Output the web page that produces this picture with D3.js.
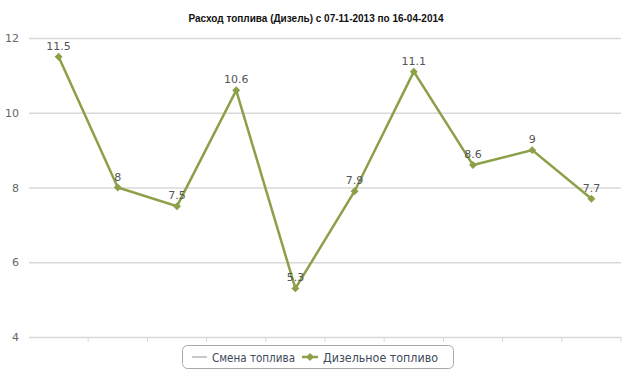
<!DOCTYPE html>
<meta charset="utf-8">
<style>
body { margin: 0; background: #fff; }
.grid line { stroke: #d8d8d8; stroke-width: 1.5px; }
.grid .domain { display: none; }
.ylab { font: 11px "DejaVu Sans", sans-serif; fill: #666; }
.vlab { font: 11px "DejaVu Sans", sans-serif; fill: #555; }
.leg { font: 12px "DejaVu Sans", sans-serif; fill: #3e4a5c; }
</style>
<body>
<script src="https://d3js.org/d3.v7.min.js"></script>
<script>
// chart data
var categories = ["1", "2", "3", "4", "5", "6", "7", "8", "9", "10"];
var diesel = [11.5, 8, 7.5, 10.6, 5.3, 7.9, 11.1, 8.6, 9, 7.7];
var yTicks = [4, 6, 8, 10, 12];
var seriesNames = ["Смена топлива", "Дизельное топливо"];

var width = 633, height = 385;
var margin = {top: 38, right: 12, bottom: 48, left: 29};
var green = "#8ba048";

var svg = d3.select("body").append("svg")
    .attr("width", width)
    .attr("height", height);

svg.append("text")
    .attr("x", 316).attr("y", 22)
    .attr("text-anchor", "middle")
    .style("font", "bold 10px 'Liberation Sans', Arial, sans-serif")
    .style("fill", "#111")
    .text("Расход топлива (Дизель) с 07-11-2013 по 16-04-2014");

var x = d3.scaleBand().domain(categories)
    .range([margin.left, width - margin.right]);
var y = d3.scaleLinear().domain([4, 12])
    .range([height - margin.bottom, margin.top]);

// horizontal grid
svg.append("g").attr("class", "grid")
    .attr("transform", "translate(" + margin.left + ",0)")
    .call(d3.axisLeft(y).tickValues(yTicks)
      .tickSize(-(width - margin.left - margin.right)).tickFormat(""));

// y labels
svg.selectAll(".ylab").data(yTicks).enter().append("text")
    .attr("class", "ylab")
    .attr("x", 19).attr("y", function(d) { return y(d) + 4; })
    .attr("text-anchor", "end")
    .text(function(d) { return d; });

// x tick marks at category boundaries
var xb = y(4);
svg.append("g")
    .selectAll("line").data(categories).enter().append("line")
    .attr("x1", function(d) { return x(d) + x.step(); })
    .attr("x2", function(d) { return x(d) + x.step(); })
    .attr("y1", xb).attr("y2", xb + 5)
    .style("stroke", "#d8d8d8").style("stroke-width", 1);

var cx = function(d, i) { return x(categories[i]) + x.bandwidth() / 2; };

var line = d3.line()
    .x(function(d, i) { return cx(d, i); })
    .y(function(d) { return y(d); });

svg.append("path").datum(diesel)
    .attr("d", line)
    .style("fill", "none").style("stroke", green).style("stroke-width", 2.5);

var diamond = d3.symbol().type(d3.symbolDiamond2).size(40);
svg.selectAll(".pt").data(diesel).enter().append("path")
    .attr("class", "pt")
    .attr("d", diamond)
    .attr("transform", function(d, i) { return "translate(" + cx(d, i) + "," + y(d) + ")"; })
    .style("fill", green);

svg.selectAll(".vlab").data(diesel).enter().append("text")
    .attr("class", "vlab")
    .attr("x", function(d, i) { return cx(d, i); })
    .attr("y", function(d) { return y(d) - 7; })
    .attr("text-anchor", "middle")
    .text(function(d) { return d; });

// legend
var lg = svg.append("g").attr("transform", "translate(182,345)");
lg.append("rect")
    .attr("x", 0.5).attr("y", 0.5).attr("width", 271).attr("height", 23)
    .attr("rx", 5)
    .style("fill", "#fff").style("stroke", "#a8a8a8");
lg.append("line").attr("x1", 10).attr("x2", 25).attr("y1", 12).attr("y2", 12)
    .style("stroke", "#c8c8c8").style("stroke-width", 2);
lg.append("text").attr("class", "leg").attr("x", 30).attr("y", 16.5)
    .attr("textLength", 83).attr("lengthAdjust", "spacingAndGlyphs")
    .text(seriesNames[0]);
lg.append("line").attr("x1", 120).attr("x2", 136).attr("y1", 12).attr("y2", 12)
    .style("stroke", green).style("stroke-width", 2.5);
lg.append("path").attr("d", diamond)
    .attr("transform", "translate(128,12)").style("fill", green);
lg.append("text").attr("class", "leg").attr("x", 141).attr("y", 16.5)
    .attr("textLength", 115).attr("lengthAdjust", "spacingAndGlyphs")
    .text(seriesNames[1]);
</script>
</body>
